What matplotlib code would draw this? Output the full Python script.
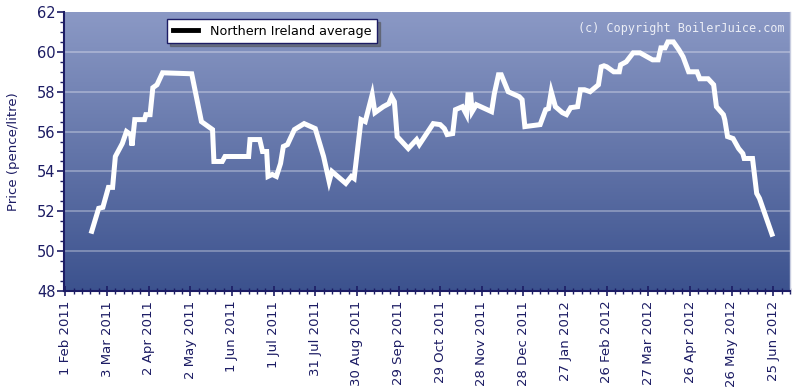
import numpy as np
import pandas as pd
import matplotlib
matplotlib.use("Agg")
import matplotlib.pyplot as plt
import matplotlib.dates as mdates
from matplotlib.colors import LinearSegmentedColormap
from matplotlib.ticker import MultipleLocator

# ---------------------------------------------------------------
# DATA
# ---------------------------------------------------------------
dates = [
    "2011-02-20", "2011-02-25", "2011-02-28", "2011-03-04", "2011-03-07",
    "2011-03-09", "2011-03-14", "2011-03-17", "2011-03-20", "2011-03-21",
    "2011-03-23", "2011-03-30", "2011-03-31", "2011-04-03", "2011-04-05",
    "2011-04-08", "2011-04-12", "2011-05-03", "2011-05-10", "2011-05-18",
    "2011-05-19", "2011-05-25", "2011-05-27", "2011-06-13", "2011-06-14",
    "2011-06-21", "2011-06-23", "2011-06-26", "2011-06-27", "2011-06-30",
    "2011-07-03", "2011-07-06", "2011-07-08", "2011-07-11", "2011-07-16",
    "2011-07-23", "2011-07-31", "2011-08-06", "2011-08-10", "2011-08-12",
    "2011-08-22", "2011-08-26", "2011-08-28", "2011-09-02", "2011-09-05",
    "2011-09-10", "2011-09-12", "2011-09-16", "2011-09-18", "2011-09-22",
    "2011-09-24", "2011-09-26", "2011-09-28", "2011-10-06", "2011-10-12",
    "2011-10-14", "2011-10-24", "2011-10-29", "2011-11-01", "2011-11-03",
    "2011-11-07", "2011-11-09", "2011-11-14", "2011-11-17", "2011-11-18",
    "2011-11-20", "2011-11-21", "2011-11-24", "2011-12-05", "2011-12-07",
    "2011-12-10", "2011-12-12", "2011-12-17", "2011-12-25", "2011-12-27",
    "2011-12-29", "2012-01-09", "2012-01-13", "2012-01-15", "2012-01-17",
    "2012-01-20", "2012-01-25", "2012-01-28", "2012-01-31", "2012-02-05",
    "2012-02-07", "2012-02-10", "2012-02-14", "2012-02-20", "2012-02-22",
    "2012-02-24", "2012-02-26", "2012-03-02", "2012-03-06", "2012-03-07",
    "2012-03-11", "2012-03-16", "2012-03-21", "2012-03-30", "2012-04-03",
    "2012-04-05", "2012-04-08", "2012-04-10", "2012-04-14", "2012-04-18",
    "2012-04-21", "2012-04-25", "2012-05-01", "2012-05-03", "2012-05-09",
    "2012-05-13", "2012-05-15", "2012-05-20", "2012-05-21", "2012-05-23",
    "2012-05-27", "2012-05-31", "2012-06-03", "2012-06-04", "2012-06-10",
    "2012-06-13", "2012-06-15", "2012-06-24",
]
prices = [
    51.0, 52.15, 52.2, 53.2, 53.2,
    54.75, 55.4, 56.0, 55.85, 55.3,
    56.6, 56.6, 56.85, 56.85, 58.2,
    58.35, 58.95, 58.9, 56.5, 56.1,
    54.5, 54.5, 54.75, 54.75, 55.6,
    55.6, 55.0, 55.0, 53.75, 53.85,
    53.75, 54.4, 55.25, 55.35, 56.1,
    56.4, 56.15, 54.75, 53.5, 54.0,
    53.4, 53.75, 53.65, 56.6, 56.5,
    57.85, 56.95, 57.15, 57.25, 57.4,
    57.75, 57.5, 55.75, 55.15, 55.6,
    55.35, 56.4, 56.35, 56.15, 55.85,
    55.9, 57.1, 57.25, 56.85, 57.85,
    57.85, 57.0, 57.35, 57.0, 57.9,
    58.85, 58.85, 58.0, 57.75, 57.6,
    56.25, 56.35, 57.1, 57.15, 58.0,
    57.25, 56.95, 56.85, 57.2, 57.25,
    58.1, 58.1, 58.0, 58.35, 59.25,
    59.3, 59.25, 59.0, 59.0, 59.35,
    59.5, 59.95, 59.95, 59.6, 59.6,
    60.2, 60.2, 60.5, 60.5, 60.1,
    59.75, 59.0, 59.0, 58.65, 58.65,
    58.35, 57.25, 56.85, 56.6, 55.75,
    55.65, 55.15, 54.9, 54.65, 54.65,
    52.9, 52.65, 50.85,
]

series_label = "Northern Ireland average"
y_label = "Price (pence/litre)"
copyright_text = "(c) Copyright BoilerJuice.com"

tick_start = "2011-02-01"
tick_step_days = 30
n_ticks = 18

# ---------------------------------------------------------------
# STYLE
# ---------------------------------------------------------------
NAVY = "#1c1c64"
BG_TOP = "#8b99c5"
BG_BOTTOM = "#3c528e"
GRAD = LinearSegmentedColormap.from_list("bg", [BG_BOTTOM, BG_TOP])

x = pd.to_datetime(dates)
ticks = pd.date_range(tick_start, periods=n_ticks, freq=f"{tick_step_days}D")
minor = pd.date_range(tick_start, periods=(n_ticks - 1) * 5 + 3, freq="6D")

fig = plt.figure(figsize=(8, 3.87), dpi=100, facecolor="white")
ax = fig.add_axes([0.08, 0.248, 0.9075, 0.721])

# gradient background
ax.imshow(np.linspace(0, 1, 256).reshape(-1, 1), cmap=GRAD, aspect="auto",
          extent=[0, 1, 0, 1], origin="lower", transform=ax.transAxes,
          zorder=0)

ax.plot(x, prices, color="white", linewidth=3.6, solid_joinstyle="miter",
        zorder=3, label=series_label)

ax.set_xlim(pd.Timestamp("2011-01-31"), pd.Timestamp("2012-07-02"))
ax.set_ylim(48, 62)

ax.yaxis.set_major_locator(MultipleLocator(2))
ax.yaxis.set_minor_locator(MultipleLocator(0.5))
ax.set_xticks(ticks)
ax.set_xticks(minor, minor=True)
ax.xaxis.set_major_formatter(mdates.DateFormatter("%-d %b %Y"))

for t in range(50, 62, 2):
    ax.axhline(t, color="white", alpha=0.35, linewidth=1.2, zorder=1)

ax.tick_params(axis="x", which="major", rotation=90, labelsize=9.5,
               colors=NAVY, direction="inout", length=7, width=1.2)
ax.tick_params(axis="x", which="minor", colors=NAVY, direction="inout",
               length=4, width=1)
ax.tick_params(axis="y", which="major", labelsize=10.5, colors=NAVY,
               direction="out", length=5, width=1.2, pad=1)
ax.tick_params(axis="y", which="minor", colors=NAVY, direction="out",
               length=3, width=1)
for lbl in ax.get_xticklabels() + ax.get_yticklabels():
    lbl.set_color(NAVY)

for s in ["left", "bottom"]:
    ax.spines[s].set_color(NAVY)
    ax.spines[s].set_linewidth(1.5)
ax.spines["top"].set_visible(False)
ax.spines["right"].set_color("#c8cde0")
ax.spines["right"].set_linewidth(1.0)

ax.set_ylabel(y_label, color=NAVY, fontsize=9.5, labelpad=12)

# legend: white box with shadow and a black line sample
leg_handle, = ax.plot([], [], color="black", linewidth=3.5)
leg = ax.legend([leg_handle], [series_label], loc="upper left",
                bbox_to_anchor=(0.142, 0.975), fontsize=9.2, frameon=True,
                fancybox=False, shadow=True, borderpad=0.45,
                handlelength=2.0, handletextpad=0.9, borderaxespad=0)
leg.get_frame().set_edgecolor(NAVY)
leg.get_frame().set_linewidth(1.0)

ax.text(0.993, 0.965, copyright_text, transform=ax.transAxes, ha="right",
        va="top", fontsize=8.5, family="DejaVu Sans Mono", color="#eceef6",
        zorder=4)

fig.savefig("out.png", dpi=100, facecolor="white")
